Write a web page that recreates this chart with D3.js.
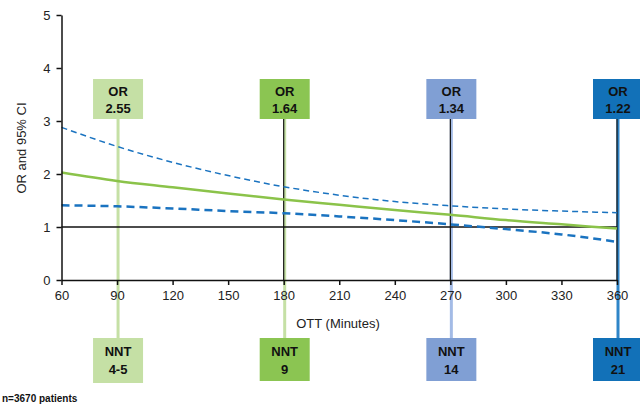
<!DOCTYPE html>
<html>
<head>
<meta charset="utf-8">
<script src="https://cdn.jsdelivr.net/npm/d3@7"></script>
<style>
  body { margin: 0; background: #fff; }
  svg { display: block; font-family: Arial, "Liberation Sans", sans-serif; }
</style>
</head>
<body>
<div id="chart"></div>
<script>
// data
const ottPoints = [60, 90, 120, 150, 180, 210, 240, 270, 300, 330, 360];
const orValues = [2.03, 1.87, 1.75, 1.63, 1.52, 1.42, 1.32, 1.23, 1.13, 1.05, 0.97];
const ciUpper = [2.88, 2.52, 2.22, 1.97, 1.76, 1.6, 1.48, 1.4, 1.34, 1.3, 1.27];
const ciLower = [1.41, 1.39, 1.35, 1.3, 1.26, 1.2, 1.13, 1.05, 0.96, 0.86, 0.72];

const markerOtt = [90, 180, 270, 360];
const markerOr = ['2.55', '1.64', '1.34', '1.22'];
const markerNnt = ['4-5', '9', '14', '21'];
const boxColors = ['#c5e0a5', '#8bc552', '#809fd4', '#1271b8'];
const stemColors = ['#c5e0a5', '#c5e0a5', '#a3bbe6', '#2f85c8'];

const xTicks = [60, 90, 120, 150, 180, 210, 240, 270, 300, 330, 360];
const yTicks = [0, 1, 2, 3, 4, 5];

const W = 640, H = 406;
const svg = d3.select('#chart').append('svg').attr('width', W).attr('height', H);

const x = d3.scaleLinear().domain([60, 360]).range([61.5, 617]);
const y = d3.scaleLinear().domain([0, 5]).range([280, 15]);

//竖线和框
markerOtt.forEach((v, i) => {
    const cx = x(v);
    svg.append('line')
        .attr('x1', cx + 1).attr('x2', cx + 1)
        .attr('y1', 118).attr('y2', 338)
        .attr('stroke', stemColors[i]).attr('stroke-width', 3);
    if (i > 0) {
        svg.append('line')
            .attr('x1', cx).attr('x2', cx)
            .attr('y1', 118).attr('y2', 280)
            .attr('stroke', '#111').attr('stroke-width', 1.2);
    }
});

// y = 1 reference line
svg.append('line')
    .attr('x1', x(60)).attr('x2', x(360))
    .attr('y1', y(1)).attr('y2', y(1))
    .attr('stroke', '#111').attr('stroke-width', 1.5);

const line = d3.line().x((d, i) => x(ottPoints[i])).y(d => y(d)).curve(d3.curveMonotoneX);

svg.append('path').datum(ciUpper).attr('d', line)
    .attr('fill', 'none').attr('stroke', '#1a73c0').attr('stroke-width', 1.5)
    .attr('stroke-dasharray', '6,4');
svg.append('path').datum(ciLower).attr('d', line)
    .attr('fill', 'none').attr('stroke', '#1a73c0').attr('stroke-width', 2.5)
    .attr('stroke-dasharray', '8,5');
svg.append('path').datum(orValues).attr('d', line)
    .attr('fill', 'none').attr('stroke', '#8bc34a').attr('stroke-width', 2.5);

// axes
const xAxis = d3.axisBottom(x).tickValues(xTicks).tickSize(5).tickSizeOuter(0);
const gx = svg.append('g').attr('transform', 'translate(0,280)').call(xAxis);
gx.select('.domain').attr('stroke', '#111').attr('stroke-width', 1.5);
gx.selectAll('.tick line').attr('stroke', '#111').attr('stroke-width', 1.5);
gx.selectAll('.tick text').attr('font-size', 13).attr('fill', '#222').attr('dy', '0.9em')
    .style('font-family', 'Arial, "Liberation Sans", sans-serif');

const yAxis = d3.axisLeft(y).tickValues(yTicks).tickFormat(d3.format('d')).tickSize(5).tickSizeOuter(0);
const gy = svg.append('g').attr('transform', 'translate(' + x(60) + ',0)').call(yAxis);
gy.select('.domain').attr('stroke', '#111').attr('stroke-width', 1.5);
gy.selectAll('.tick line').attr('stroke', '#111').attr('stroke-width', 1.5);
gy.selectAll('.tick text').attr('font-size', 13).attr('fill', '#222').attr('x', -11)
    .style('font-family', 'Arial, "Liberation Sans", sans-serif');

svg.append('text').attr('x', 338).attr('y', 328).attr('text-anchor', 'middle')
    .attr('font-size', 13).attr('fill', '#222').text('OTT (Minutes)');
svg.append('text').attr('transform', 'translate(26,148) rotate(-90)').attr('text-anchor', 'middle')
    .attr('font-size', 13).attr('fill', '#222').text('OR and 95% CI');

// boxes
markerOtt.forEach((v, i) => {
    const cx = x(v) + 1;
    const top = svg.append('g');
    top.append('rect').attr('x', cx - 25).attr('y', 79).attr('width', 50).attr('height', 40)
        .attr('fill', boxColors[i]);
    top.append('text').attr('x', cx).attr('y', 96).attr('text-anchor', 'middle')
        .attr('font-size', 13).attr('font-weight', 'bold').attr('fill', '#111').text('OR');
    top.append('text').attr('x', cx).attr('y', 113).attr('text-anchor', 'middle')
        .attr('font-size', 13).attr('font-weight', 'bold').attr('fill', '#111').text(markerOr[i]);

    const bot = svg.append('g');
    bot.append('rect').attr('x', cx - 25).attr('y', 338).attr('width', 50).attr('height', i === 0 ? 45 : 43)
        .attr('fill', boxColors[i]);
    bot.append('text').attr('x', cx).attr('y', 356).attr('text-anchor', 'middle')
        .attr('font-size', 13).attr('font-weight', 'bold').attr('fill', '#111').text('NNT');
    bot.append('text').attr('x', cx).attr('y', 374).attr('text-anchor', 'middle')
        .attr('font-size', 13).attr('font-weight', 'bold').attr('fill', '#111').text(markerNnt[i]);
});

svg.append('text').attr('x', 2).attr('y', 402).attr('font-size', 10).attr('font-weight', 'bold')
    .attr('fill', '#111').text('n=3670 patients');
</script>
</body>
</html>
